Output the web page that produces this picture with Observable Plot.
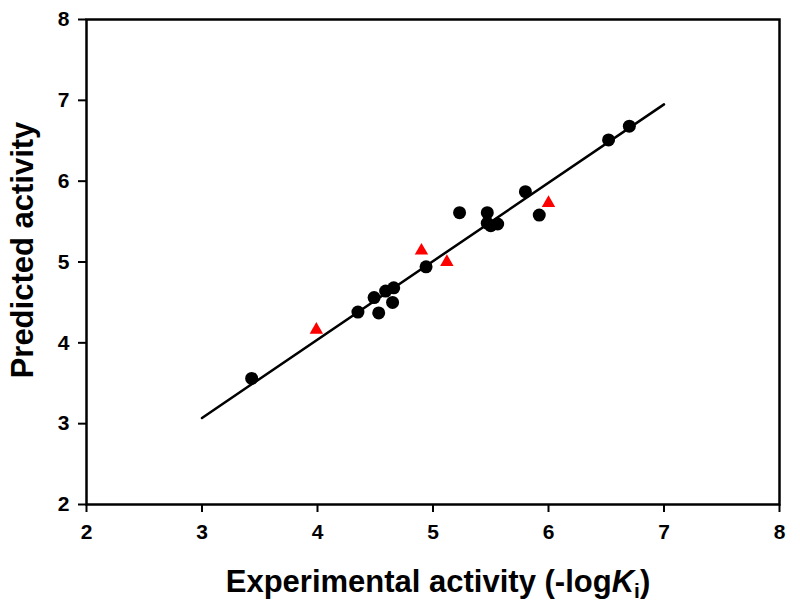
<!DOCTYPE html>
<html>
<head>
<meta charset="utf-8">
<script src="https://cdn.jsdelivr.net/npm/d3@7"></script>
<script src="https://cdn.jsdelivr.net/npm/@observablehq/plot@0.6"></script>
<style>
  html, body { margin: 0; padding: 0; background: #fff; }
  #chart { width: 800px; height: 612px; }
</style>
</head>
<body>
<div id="chart"></div>
<script>
// Training set (black circles)
const trainExp  = [3.43, 4.35, 4.49, 4.53, 4.59, 4.65, 4.66, 4.94, 5.23, 5.47, 5.47, 5.50, 5.56, 5.80, 5.92, 6.52, 6.70];
const trainPred = [3.56, 4.38, 4.56, 4.37, 4.64, 4.50, 4.68, 4.94, 5.61, 5.61, 5.48, 5.45, 5.47, 5.87, 5.58, 6.51, 6.68];
// Test set (red triangles)
const testExp  = [3.99, 4.90, 5.12, 6.00];
const testPred = [4.16, 5.14, 5.00, 5.73];
// Regression line endpoints
const lineExp  = [3, 7];
const linePred = [3.07, 6.95];
// Axis ticks
const ticks = [2, 3, 4, 5, 6, 7, 8];

const train = trainExp.map((x, i) => ({x, y: trainPred[i]}));
const test = testExp.map((x, i) => ({x, y: testPred[i]}));
const line = lineExp.map((x, i) => ({x, y: linePred[i]}));

const font = "'Liberation Sans', Arial, Helvetica, sans-serif";
const fmt = d => String(d);

const plot = Plot.plot({
  width: 800,
  height: 612,
  marginLeft: 86,
  marginRight: 21,
  marginTop: 19,
  marginBottom: 108,
  style: {fontFamily: font, fontSize: "21px", fontWeight: "bold", color: "#000", background: "#fff"},
  x: {domain: [2, 8], ticks: ticks, label: null, tickFormat: fmt},
  y: {domain: [2, 8], ticks: ticks, label: null, tickFormat: fmt},
  marks: [
    Plot.axisX({ticks: ticks, tickFormat: fmt, tickSize: 8, tickPadding: 12, strokeWidth: 2, label: null, fontSize: 21}),
    Plot.axisY({ticks: ticks, tickFormat: fmt, tickSize: 8, tickPadding: 9, strokeWidth: 2, label: null, fontSize: 21}),
    Plot.frame({stroke: "#000", strokeWidth: 2.5}),
    Plot.line(line, {x: "x", y: "y", stroke: "#000", strokeWidth: 2.5}),
    Plot.dot(train, {x: "x", y: "y", r: 6.5, fill: "#000", stroke: "none"}),
    Plot.dot(test, {x: "x", y: "y", r: 5, symbol: "triangle", fill: "#ff0000", stroke: "none"})
  ]
});

const svg = d3.select(plot);

// X axis title with italic K and subscript i
const xt = svg.append("text")
  .attr("x", 438).attr("y", 592)
  .attr("text-anchor", "middle")
  .attr("font-family", font).attr("font-weight", "bold").attr("font-size", 31)
  .attr("fill", "#000");
xt.append("tspan").text("Experimental activity (-log");
xt.append("tspan").attr("font-style", "italic").text("K");
xt.append("tspan").attr("font-size", 21).attr("dy", 6).text("i");
xt.append("tspan").attr("dy", -6).text(")");

// Y axis title
svg.append("text")
  .attr("transform", "translate(33,250) rotate(-90)")
  .attr("text-anchor", "middle")
  .attr("font-family", font).attr("font-weight", "bold").attr("font-size", 31)
  .attr("fill", "#000")
  .text("Predicted activity");

document.getElementById("chart").appendChild(plot);
</script>
</body>
</html>
